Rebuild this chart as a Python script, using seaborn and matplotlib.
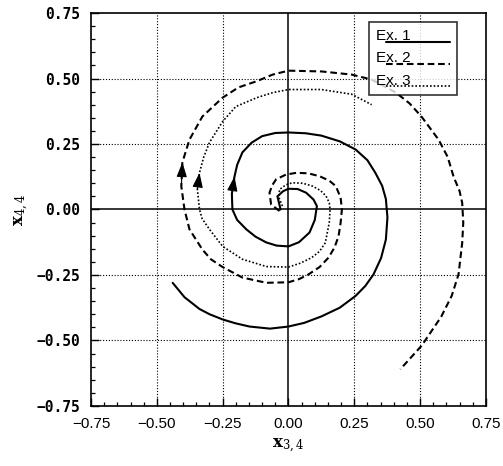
import matplotlib
matplotlib.use("Agg")
import matplotlib.pyplot as plt
import pandas as pd
import seaborn as sns
from matplotlib.legend_handler import HandlerLine2D
from matplotlib.ticker import MultipleLocator

# values (inner end -> outer end)
ex1_x = [-0.030, -0.042, -0.020, 0.000, 0.035, 0.067, 0.095, 0.108, 0.100, 0.080, 0.040,
         0.000, -0.045, -0.084, -0.125, -0.160, -0.195, -0.213, -0.215, -0.205, -0.195,
         -0.175, -0.140, -0.100, -0.050, 0.000, 0.065, 0.125, 0.195, 0.255, 0.300, 0.330,
         0.356, 0.370, 0.376, 0.370, 0.352, 0.323, 0.292, 0.255, 0.195, 0.126, 0.060,
         0.000, -0.070, -0.148, -0.200, -0.250, -0.300, -0.338, -0.395, -0.440]
ex1_y = [0.000, 0.050, 0.070, 0.079, 0.078, 0.064, 0.038, 0.013, -0.040, -0.088, -0.125,
         -0.141, -0.138, -0.126, -0.104, -0.076, -0.040, 0.000, 0.060, 0.126, 0.170,
         0.218, 0.255, 0.280, 0.292, 0.294, 0.291, 0.282, 0.260, 0.229, 0.188, 0.140,
         0.090, 0.040, -0.030, -0.115, -0.185, -0.248, -0.292, -0.330, -0.375, -0.408, -0.433,
         -0.447, -0.455, -0.447, -0.435, -0.420, -0.400, -0.380, -0.335, -0.280]

ex2_x = [-0.034, -0.066, -0.072, -0.062, -0.047, -0.010, 0.030, 0.075, 0.118, 0.155, 0.180,
         0.198, 0.203, 0.198, 0.190, 0.175, 0.152, 0.118, 0.076, 0.040, 0.000, -0.084,
         -0.175, -0.250, -0.295, -0.327, -0.376, -0.395, -0.407, -0.403, -0.376, -0.327,
         -0.250, -0.190, -0.120, -0.060, 0.000, 0.126, 0.240, 0.316, 0.407, 0.460, 0.505,
         0.570, 0.605, 0.627, 0.650, 0.660, 0.664, 0.660, 0.646, 0.620, 0.580, 0.506, 0.425]
ex2_y = [-0.006, 0.019, 0.064, 0.092, 0.115, 0.133, 0.140, 0.138, 0.127, 0.110, 0.089,
         0.045, 0.000, -0.052, -0.103, -0.145, -0.184, -0.220, -0.248, -0.266, -0.278, -0.280,
         -0.260, -0.220, -0.190, -0.153, -0.076, 0.000, 0.088, 0.180, 0.267, 0.355,
         0.427, 0.466, 0.490, 0.515, 0.530, 0.527, 0.515, 0.496, 0.447, 0.405, 0.355,
         0.267, 0.200, 0.126, 0.070, 0.025, -0.050, -0.127, -0.248, -0.330, -0.410, -0.520, -0.610]

ex3_x = [-0.023, -0.036, -0.034, -0.010, 0.015, 0.055, 0.092, 0.122, 0.143, 0.155, 0.158,
         0.155, 0.140, 0.118, 0.088, 0.045, 0.000, -0.084, -0.175, -0.250, -0.300, -0.328,
         -0.338, -0.346, -0.338, -0.322, -0.300, -0.250, -0.200, -0.120, -0.060, 0.000,
         0.125, 0.240, 0.316]
ex3_y = [0.013, 0.045, 0.076, 0.094, 0.102, 0.100, 0.089, 0.072, 0.051, 0.025, 0.000,
         -0.050, -0.127, -0.160, -0.184, -0.205, -0.220, -0.218, -0.190, -0.141, -0.076, -0.035,
         0.000, 0.076, 0.140, 0.200, 0.256, 0.336, 0.393, 0.427, 0.446, 0.458,
         0.458, 0.440, 0.400]

labels = ["Ex. 1", "Ex. 2", "Ex. 3"]
ticks = [-0.75, -0.50, -0.25, 0.00, 0.25, 0.50, 0.75]

frames = []
for name, xs, ys in zip(labels, [ex1_x, ex2_x, ex3_x], [ex1_y, ex2_y, ex3_y]):
    frames.append(pd.DataFrame({"x": xs, "y": ys, "case": name}))
df = pd.concat(frames, ignore_index=True)


class UnderLine(HandlerLine2D):
    # legend sample drawn just below the text, like an underline
    def create_artists(self, legend, orig_handle, xdescent, ydescent, width, height,
                       fontsize, trans):
        return super().create_artists(legend, orig_handle, xdescent, ydescent + 1.3 * height,
                                      width, height, fontsize, trans)


sns.set_style("white")
plt.rcParams['font.family'] = ['Liberation Sans', 'DejaVu Sans']
plt.rcParams['mathtext.fontset'] = 'dejavuserif'
plt.rcParams['lines.solid_joinstyle'] = 'round'
for key in ['text.color', 'axes.labelcolor', 'xtick.color', 'ytick.color']:
    plt.rcParams[key] = 'black'

fig = plt.figure(figsize=(5.03, 4.66), dpi=100)
ax = fig.add_axes([0.181, 0.129, 0.785, 0.843])

ax.set_xlim(-0.75, 0.75)
ax.set_ylim(-0.75, 0.75)

for t in ticks[1:-1]:
    if t == 0:
        ax.axvline(0, color='k', lw=1.1, zorder=1)
        ax.axhline(0, color='k', lw=1.1, zorder=1)
    else:
        ax.axvline(t, color='k', lw=0.8, ls=(0, (1, 1.6)), zorder=1)
        ax.axhline(t, color='k', lw=0.8, ls=(0, (1, 1.6)), zorder=1)

styles = {"Ex. 1": ("-", 1.5), "Ex. 2": ((0, (3.2, 1.8)), 1.5), "Ex. 3": ((0, (1, 1.2)), 1.2)}
for name in labels:
    sub = df[df["case"] == name]
    ls, lw = styles[name]
    sns.lineplot(data=sub, x="x", y="y", sort=False, estimator=None, color='k',
                 lw=lw, ls=ls, label=name, ax=ax, zorder=3)

# arrow heads on the left side, pointing along the curve
arrow_at = {"Ex. 1": 19, "Ex. 2": 29, "Ex. 3": 24}
for name in labels:
    sub = df[df["case"] == name].reset_index(drop=True)
    i = arrow_at[name]
    ax.annotate("", xy=(sub.x[i], sub.y[i]), xytext=(sub.x[i - 1], sub.y[i - 1]),
                arrowprops=dict(arrowstyle='-|>,head_length=0.9,head_width=0.32',
                                color='k', lw=0.8, shrinkA=0, shrinkB=0), zorder=4)

ax.xaxis.set_major_locator(MultipleLocator(0.25))
ax.yaxis.set_major_locator(MultipleLocator(0.25))
ax.xaxis.set_minor_locator(MultipleLocator(0.05))
ax.yaxis.set_minor_locator(MultipleLocator(0.05))
ax.tick_params(which='both', bottom=True, left=True, top=False, right=False, color='k')
ax.tick_params(which='major', direction='in', length=6, width=1.0, pad=8)
ax.tick_params(which='minor', direction='in', length=3, width=0.9)
ax.tick_params(axis='x', labelsize=11)
ax.tick_params(axis='y', labelsize=10.5)
ax.set_xticks(ticks)
ax.set_yticks(ticks)
ax.set_xticklabels([f"{t:.2f}".replace("-", "\u2212") for t in ticks])
ax.set_yticklabels([f"{t:.2f}".replace("-", "\u2212") for t in ticks],
                   family=['DejaVu Sans Mono'], weight='bold')

for sp in ax.spines.values():
    sp.set_color('k')
    sp.set_linewidth(1.2)

ax.set_xlabel(r"$\mathbf{x}_{3,4}$", fontsize=12, labelpad=4)
ax.set_ylabel(r"$\mathbf{x}_{4,4}$", fontsize=12, labelpad=4)

handles, names = ax.get_legend_handles_labels()
leg = ax.legend(handles, names, loc='upper right', bbox_to_anchor=(0.927, 0.977),
                markerfirst=False, handlelength=4.2, handletextpad=-1.6, fontsize=11,
                frameon=True, fancybox=False, borderpad=0.45, labelspacing=0.55,
                borderaxespad=0, handler_map={h: UnderLine() for h in handles})
leg.get_frame().set_edgecolor('k')
leg.get_frame().set_linewidth(1.2)
for txt in leg.get_texts():
    txt.set_color('black')

fig.savefig("out.png", dpi=100)
